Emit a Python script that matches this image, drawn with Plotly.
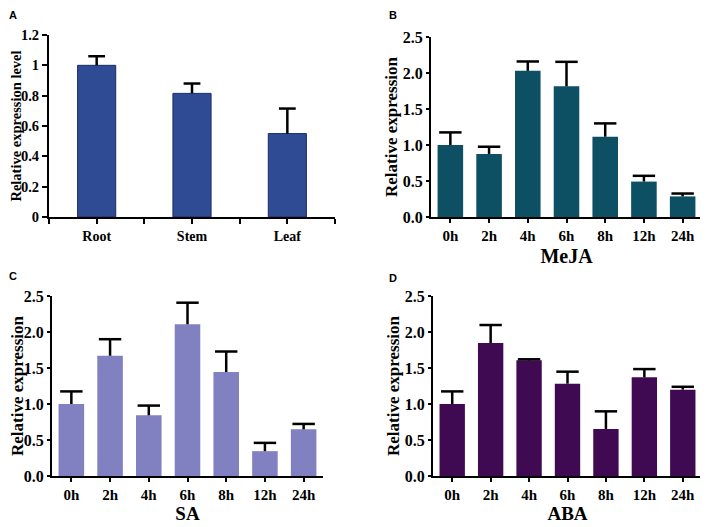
import plotly.graph_objects as go

# ---------------- data ----------------
tissues = ["Root", "Stem", "Leaf"]
tissue_values = [1.0, 0.815, 0.55]
tissue_err = [0.06, 0.065, 0.165]

times = ["0h", "2h", "4h", "6h", "8h", "12h", "24h"]
meja_values = [1.0, 0.876, 2.03, 1.815, 1.115, 0.492, 0.286]
meja_err = [0.175, 0.10, 0.13, 0.34, 0.185, 0.08, 0.04]
sa_values = [1.0, 1.67, 0.843, 2.107, 1.444, 0.345, 0.648]
sa_err = [0.175, 0.23, 0.135, 0.30, 0.285, 0.115, 0.075]
aba_values = [1.0, 1.847, 1.606, 1.282, 0.653, 1.37, 1.199]
aba_err = [0.175, 0.25, 0.015, 0.167, 0.245, 0.115, 0.04]

SERIF = "Liberation Serif"
SANS = "Liberation Sans"

# page has an 8px body margin, so the figure is sized to fit the window
OFF = 8
FIG_W, FIG_H = 708 - OFF, 527 - OFF

fig = go.Figure()

def add_bars(xref, yref, cats, vals, errs, color, width, line_color, line_w, cap, thick):
    xs = list(range(len(cats)))
    fig.add_trace(go.Bar(
        x=xs, y=vals, width=width,
        marker=dict(color=color, line=dict(color=line_color, width=line_w)),
        xaxis=xref, yaxis=yref, showlegend=False, hoverinfo="skip",
    ))
    # upper-only error bars: stem drawn downward from the cap, cap as a marker
    tops = [v + e for v, e in zip(vals, errs)]
    fig.add_trace(go.Scatter(
        x=xs, y=tops, mode="markers",
        marker=dict(symbol="line-ew", size=2 * cap, color="black",
                    line=dict(color="black", width=thick)),
        error_y=dict(type="data", symmetric=False, array=[0] * len(errs),
                     arrayminus=errs, color="black", thickness=thick, width=0),
        xaxis=xref, yaxis=yref, showlegend=False,
    ))

add_bars("x", "y", tissues, tissue_values, tissue_err, "#2F4B94", 0.4, "#1B2C66", 1, 6, 2.5)
add_bars("x2", "y2", times, meja_values, meja_err, "#0D4F63", 0.66, "#0D4F63", 0, 8, 2.5)
add_bars("x3", "y3", times, sa_values, sa_err, "#8181C1", 0.66, "#8181C1", 0, 8, 2.5)
add_bars("x4", "y4", times, aba_values, aba_err, "#3F0A51", 0.66, "#3F0A51", 0, 8, 2.5)

def H(py):
    return 1 - (py - OFF) / FIG_H

def W(px):
    return (px - OFF) / FIG_W

axis_common = dict(showgrid=False, zeroline=False, showline=True, automargin=False,
                   linecolor="black", linewidth=2, ticks="outside",
                   tickcolor="black", tickwidth=2)

# Panel A axes
a_tickvals = [i * 0.5 - 0.5 for i in range(2 * len(tissues) + 1)]
a_ticktext = [tissues[int(v)] if float(v).is_integer() and 0 <= v < len(tissues) else "" for v in a_tickvals]
fig.update_layout(
    xaxis=dict(domain=[W(49), W(335)], anchor="y", range=[-0.5, len(tissues) - 0.5],
               tickmode="array", tickvals=a_tickvals, ticktext=a_ticktext, ticklen=5,
               tickfont=dict(family=SERIF, size=14, color="black", weight="bold"),
               **axis_common),
    yaxis=dict(domain=[H(217), H(35)], anchor="x", range=[0, 1.2], dtick=0.2, ticklen=5,
               tickfont=dict(family=SERIF, size=14.5, color="black", weight="bold"),
               title=dict(text="Relative expression level", standoff=3,
                          font=dict(family=SERIF, size=14.5, color="black", weight="bold")),
               **axis_common),
)

def time_axes(xname, yname, xdom, ydom, xtitle, xanchor, yanchor, xstandoff, xsize, ystandoff):
    fig.update_layout({
        xname: dict(domain=xdom, anchor=yanchor, range=[-0.5, len(times) - 0.5],
                    tickmode="array", tickvals=list(range(len(times))), ticktext=times,
                    ticklen=4,
                    tickfont=dict(family=SERIF, size=15, color="black", weight="bold"),
                    title=dict(text=xtitle, standoff=xstandoff,
                               font=dict(family=SERIF, size=xsize, color="black", weight="bold")),
                    **axis_common),
        yname: dict(domain=ydom, anchor=xanchor, range=[0, 2.5], dtick=0.5, tickformat=".1f",
                    ticklen=3,
                    tickfont=dict(family=SERIF, size=16, color="black", weight="bold"),
                    title=dict(text="Relative expression", standoff=ystandoff,
                               font=dict(family=SERIF, size=17, color="black", weight="bold")),
                    **axis_common),
    })

time_axes("xaxis2", "yaxis2", [W(431), W(702)], [H(217), H(37)], "MeJA", "x2", "y2", 6, 20, 1)
time_axes("xaxis3", "yaxis3", [W(52), W(323)], [H(476), H(296)], "SA", "x3", "y3", 5, 19, 0)
time_axes("xaxis4", "yaxis4", [W(433), W(702)], [H(476), H(296)], "ABA", "x4", "y4", 5, 19, 1)

for letter, px, py in [("A", 13, 15), ("B", 393, 15), ("C", 13, 276), ("D", 393, 278)]:
    fig.add_annotation(text=letter, x=W(px), y=H(py), xref="paper", yref="paper",
                       showarrow=False, xanchor="center", yanchor="middle",
                       font=dict(family=SANS, size=11, color="black", weight="bold"))

fig.update_layout(width=FIG_W, height=FIG_H, margin=dict(l=0, r=0, t=0, b=0),
                  plot_bgcolor="white", paper_bgcolor="white", showlegend=False)

fig.write_html("out.html")
